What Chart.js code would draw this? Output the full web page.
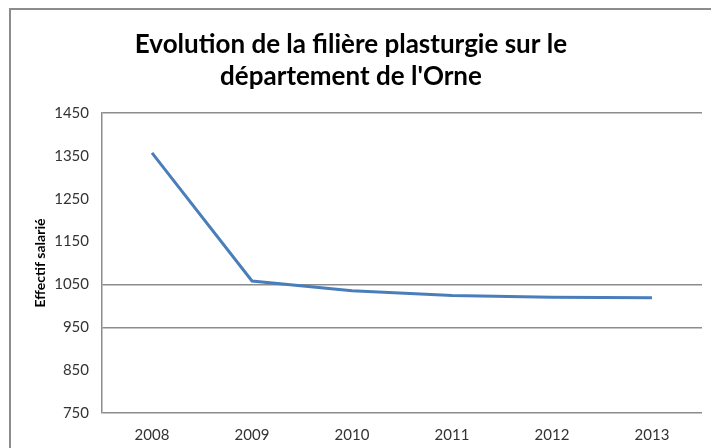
<!DOCTYPE html>
<html>
<head>
<meta charset="utf-8">
<script src="https://cdn.jsdelivr.net/npm/chart.js@4/dist/chart.umd.min.js"></script>
<style>
  html, body { margin: 0; padding: 0; background: #fff; overflow: hidden; }
  #frame { position: absolute; left: 9px; top: 8px; width: 900px; height: 600px; border: 2px solid #8c8c8c; }
  #wrap { position: absolute; left: 0; top: 0; width: 711px; height: 448px; }
</style>
</head>
<body>
<div id="frame"></div>
<div id="wrap"><canvas id="chart" width="711" height="448"></canvas></div>
<script>
const years = ['2008', '2009', '2010', '2011', '2012', '2013'];
const effectif = [1357, 1058, 1035, 1024, 1020, 1019];
const yTicks = [750, 850, 950, 1050, 1150, 1250, 1350, 1450];
const visibleGrid = [750, 950, 1050, 1450];

const ctx = document.getElementById('chart').getContext('2d');
new Chart(ctx, {
    type: 'line',
    data: {
        labels: years,
        datasets: [{
            label: 'Effectif salarié',
            data: effectif,
            borderColor: '#4a7ebb',
            borderWidth: 3,
            pointRadius: 0,
            tension: 0,
            fill: false
        }]
    },
    options: {
        responsive: false,
        animation: false,
        layout: { padding: { left: 0, right: 9, top: 0, bottom: 0 } },
        plugins: {
            legend: { display: false },
            tooltip: { enabled: false },
            title: {
                display: true,
                text: ['Evolution de la filière plasturgie sur le', "département de l'Orne"],
                color: '#000',
                font: { family: 'Lato', size: 26, weight: 'bold', lineHeight: '32px' },
                padding: { top: 29, bottom: 20 }
            }
        },
        scales: {
            x: {
                offset: true,
                grid: { display: false, drawTicks: false },
                border: { display: false },
                ticks: { color: '#333', font: { family: 'Lato', size: 15 }, padding: 13 },
                afterFit: (s) => { s.height = 35; }
            },
            y: {
                min: 750,
                max: 1450,
                afterBuildTicks: (s) => { s.ticks = yTicks.map(v => ({ value: v })); },
                grid: {
                    drawTicks: false,
                    color: (c) => visibleGrid.includes(c.tick && c.tick.value) ? '#8c8c8c' : 'rgba(0,0,0,0)',
                    lineWidth: 1.5
                },
                border: { display: true, color: '#8c8c8c', width: 1.5 },
                ticks: {
                    color: '#333',
                    font: { family: 'Lato', size: 15 },
                    padding: 13,
                    callback: (v) => String(v)
                },
                title: {
                    display: true,
                    text: 'Effectif salarié',
                    color: '#000',
                    font: { family: 'Lato', size: 14, weight: 'bold' },
                    padding: { top: 32, bottom: 0 }
                },
                afterFit: (s) => { s.width = 102; }
            }
        }
    }
});
</script>
</body>
</html>
